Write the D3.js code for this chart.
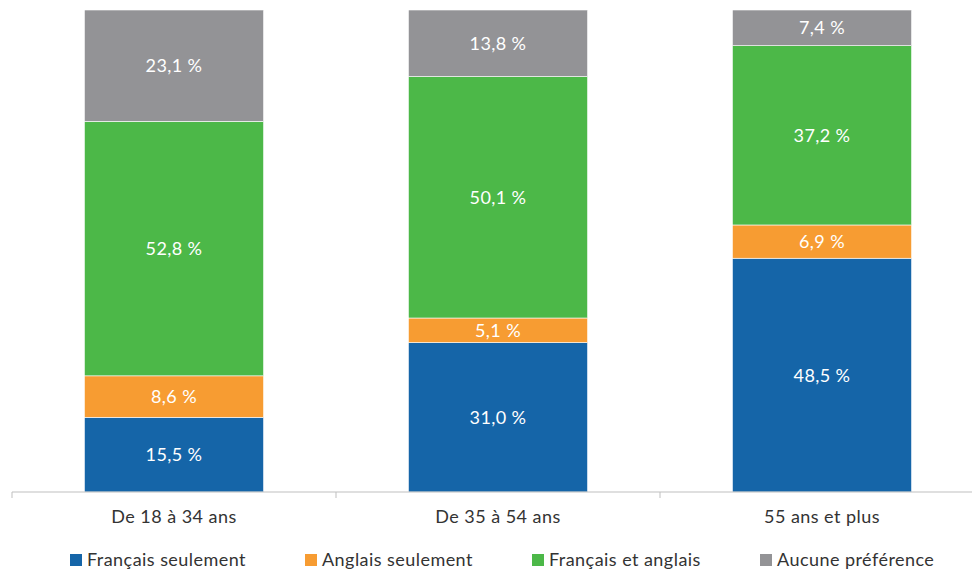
<!DOCTYPE html>
<html><head><meta charset="utf-8">
<script src="https://cdn.jsdelivr.net/npm/d3@7"></script>
<style>body{margin:0;background:#fff;}svg{display:block;font-family:Lato,"Open Sans",sans-serif;}</style>
</head><body><svg id="c" width="972" height="571"></svg>
<script>
const categories = ["De 18 à 34 ans", "De 35 à 54 ans", "55 ans et plus"];
const seriesNames = ["Français seulement", "Anglais seulement", "Français et anglais", "Aucune préférence"];
const francaisSeulement = [15.5, 31.0, 48.5];
const anglaisSeulement = [8.6, 5.1, 6.9];
const francaisEtAnglais = [52.8, 50.1, 37.2];
const aucunePreference = [23.1, 13.8, 7.4];
const colors = ["#1565a8", "#f79c32", "#4cb848", "#939396"];

const seriesValues = [francaisSeulement, anglaisSeulement, francaisEtAnglais, aucunePreference];
const rows = categories.map((c, i) => {
  const r = {cat: c};
  seriesNames.forEach((s, j) => r[s] = seriesValues[j][i]);
  return r;
});
const stack = d3.stack().keys(seriesNames)(rows);

const svg = d3.select("#c");
const x = d3.scaleBand().domain(categories).range([12, 984]).paddingInner(0.447).paddingOuter(0.2235);
const y = d3.scaleLinear().domain([0, 100]).range([492, 10]);

const fmt = v => v.toFixed(1).replace(".", ",") + " %";

const g = svg.append("g");
stack.forEach((layer, j) => {
  g.selectAll(null).data(layer).enter().append("rect")
    .attr("x", d => x(d.data.cat))
    .attr("width", x.bandwidth())
    .attr("y", d => y(d[1]))
    .attr("height", d => y(d[0]) - y(d[1]))
    .attr("fill", colors[j])
    .attr("stroke", "#fff").attr("stroke-width", 0.6);
  g.selectAll(null).data(layer).enter().append("text")
    .attr("x", d => x(d.data.cat) + x.bandwidth() / 2)
    .attr("y", d => (y(d[0]) + y(d[1])) / 2)
    .attr("dy", "0.36em")
    .attr("text-anchor", "middle")
    .attr("fill", "#fff")
    .attr("font-size", 18)
    .attr("letter-spacing", "0.4px")
    .text(d => fmt(d[1] - d[0]));
});

// axis
const ax = svg.append("g").attr("transform", "translate(0,492)");
ax.append("line").attr("x1", 12).attr("x2", 984).attr("stroke", "#bfbfbf").attr("stroke-width", 1);
const stepTicks = categories.map(c => x(c) - x.step() * x.paddingInner() / 2).concat([984]);
ax.selectAll(".tk").data(stepTicks).enter().append("line")
  .attr("x1", d => d).attr("x2", d => d).attr("y1", 0).attr("y2", 6)
  .attr("stroke", "#bfbfbf");
ax.selectAll(".lb").data(categories).enter().append("text")
  .attr("x", d => x(d) + x.bandwidth() / 2)
  .attr("y", 31)
  .attr("text-anchor", "middle")
  .attr("fill", "#333")
  .attr("font-size", 18)
  .attr("letter-spacing", "0.45px")
  .text(d => d);

// legend
const legX = [70, 305, 532, 760];
const leg = svg.append("g").attr("transform", "translate(0,560)");
seriesNames.forEach((s, j) => {
  leg.append("rect").attr("x", legX[j]).attr("y", -6).attr("width", 12).attr("height", 12).attr("fill", colors[j]);
  leg.append("text").attr("x", legX[j] + 17).attr("y", 0).attr("dy", "0.35em")
    .attr("fill", "#333").attr("font-size", 18).attr("letter-spacing", "0.45px").text(s);
});
</script></body></html>
